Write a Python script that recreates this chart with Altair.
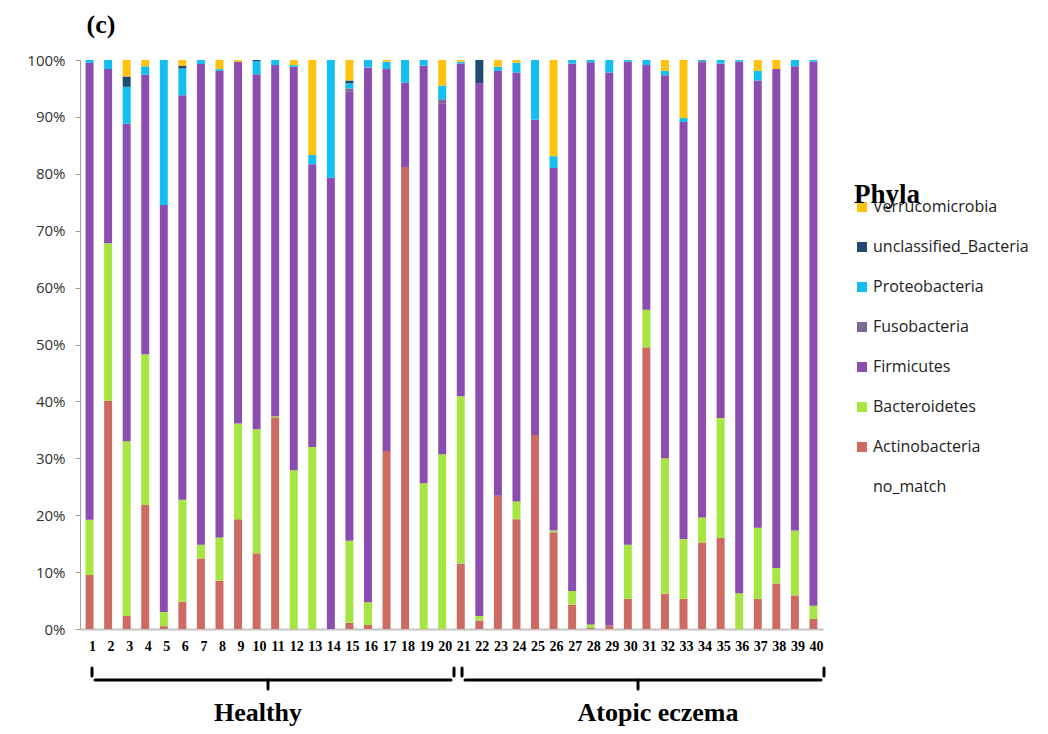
import altair as alt
import pandas as pd

samples = ["1", "2", "3", "4", "5", "6", "7", "8", "9", "10",
           "11", "12", "13", "14", "15", "16", "17", "18", "19", "20",
           "21", "22", "23", "24", "25", "26", "27", "28", "29", "30",
           "31", "32", "33", "34", "35", "36", "37", "38", "39", "40"]

# percentage of each phylum per sample
actinobacteria = [9.5, 40.1, 2.3, 21.8, 0.5, 4.8, 12.4, 8.5, 19.3, 13.3,
                  37.2, 0.0, 0.0, 0.0, 1.1, 0.7, 31.3, 81.2, 0.0, 0.0,
                  11.5, 1.5, 23.4, 19.3, 34.1, 17.0, 4.3, 0.2, 0.6, 5.3,
                  49.5, 6.2, 5.3, 15.2, 16.0, 0.0, 5.3, 8.0, 5.9, 1.8]
bacteroidetes = [9.7, 27.7, 30.7, 26.5, 2.5, 17.9, 2.4, 7.6, 16.8, 21.8,
                 0.2, 27.9, 32.0, 0.0, 14.4, 4.0, 0.0, 0.0, 25.6, 30.7,
                 29.4, 0.8, 0.0, 3.1, 0.0, 0.3, 2.4, 0.6, 0.0, 9.5,
                 6.6, 23.8, 10.5, 4.4, 21.1, 6.3, 12.5, 2.7, 11.4, 2.3]
firmicutes = [80.3, 30.6, 55.8, 49.1, 71.5, 71.1, 84.5, 82.0, 63.6, 62.4,
              61.7, 70.9, 49.7, 79.3, 79.0, 94.0, 67.1, 14.8, 73.4, 61.7,
              58.5, 93.6, 74.7, 75.4, 55.4, 63.7, 92.7, 98.8, 97.2, 84.9,
              43.0, 67.3, 73.3, 80.0, 62.3, 93.4, 78.6, 87.7, 81.6, 95.6]
fusobacteria = [0.0, 0.0, 0.0, 0.0, 0.0, 0.0, 0.0, 0.0, 0.0, 0.0,
                0.0, 0.0, 0.0, 0.0, 0.5, 0.0, 0.0, 0.0, 0.0, 0.7,
                0.0, 0.0, 0.0, 0.0, 0.0, 0.0, 0.0, 0.0, 0.0, 0.0,
                0.0, 0.0, 0.0, 0.2, 0.0, 0.0, 0.0, 0.0, 0.0, 0.0]
proteobacteria = [0.5, 1.6, 6.5, 1.5, 25.5, 4.7, 0.7, 0.3, 0.0, 2.3,
                  0.9, 0.3, 1.6, 20.7, 0.9, 1.3, 1.3, 4.0, 1.0, 2.4,
                  0.3, 0.0, 0.7, 1.7, 10.5, 2.1, 0.6, 0.4, 2.2, 0.3,
                  0.9, 0.8, 0.7, 0.2, 0.6, 0.3, 1.7, 0.0, 1.1, 0.3]
unclassified = [0.0, 0.0, 1.8, 0.0, 0.0, 0.5, 0.0, 0.0, 0.0, 0.2,
                0.0, 0.0, 0.0, 0.0, 0.5, 0.0, 0.0, 0.0, 0.0, 0.0,
                0.0, 4.1, 0.0, 0.0, 0.0, 0.0, 0.0, 0.0, 0.0, 0.0,
                0.0, 0.0, 0.0, 0.0, 0.0, 0.0, 0.0, 0.0, 0.0, 0.0]
verrucomicrobia = [0.0, 0.0, 2.9, 1.1, 0.0, 1.0, 0.0, 1.6, 0.3, 0.0,
                   0.0, 0.9, 16.7, 0.0, 3.6, 0.0, 0.3, 0.0, 0.0, 4.5,
                   0.3, 0.0, 1.2, 0.5, 0.0, 16.9, 0.0, 0.0, 0.0, 0.0,
                   0.0, 1.9, 10.2, 0.0, 0.0, 0.0, 1.9, 1.6, 0.0, 0.0]

legend_order = ["Verrucomicrobia", "unclassified_Bacteria", "Proteobacteria",
                "Fusobacteria", "Firmicutes", "Bacteroidetes", "Actinobacteria", "no_match"]
palette = ["#FFC20E", "#1F4A72", "#13BEF0", "#7D6895", "#8B4DB0", "#A6E542", "#CD6A62", "#FFFFFF"]

series = {
    "Actinobacteria": actinobacteria,
    "Bacteroidetes": bacteroidetes,
    "Firmicutes": firmicutes,
    "Fusobacteria": fusobacteria,
    "Proteobacteria": proteobacteria,
    "unclassified_Bacteria": unclassified,
    "Verrucomicrobia": verrucomicrobia,
}
stack_rank = {name: i for i, name in enumerate(series)}

rows = []
for name, vals in series.items():
    for s, v in zip(samples, vals):
        rows.append({"sample": s, "phylum": name, "value": v, "rank": stack_rank[name]})
df = pd.DataFrame(rows)

bars = alt.Chart(df).mark_bar(strokeWidth=0).encode(
    x=alt.X("sample:N", sort=samples,
            scale=alt.Scale(paddingInner=0.57, paddingOuter=0.3),
            axis=alt.Axis(title=None, labelAngle=0, ticks=False,
                          labelFont="Liberation Serif", labelFontWeight="bold",
                          labelFontSize=14, labelColor="black", labelPadding=10,
                          labelOffset=3, domainColor="#C4C4C4", domainWidth=2)),
    y=alt.Y("value:Q", stack="zero",
            scale=alt.Scale(domain=[0, 100], nice=False),
            axis=alt.Axis(title=None, values=[0, 10, 20, 30, 40, 50, 60, 70, 80, 90, 100],
                          labelExpr="datum.value + '%'", grid=False,
                          labelFont="Open Sans", labelFontSize=15, labelColor="#333333",
                          tickSize=5, tickColor="#A0A0A0", domainColor="#A0A0A0",
                          labelPadding=10)),
    color=alt.Color("phylum:N",
                    scale=alt.Scale(domain=legend_order, range=palette),
                    legend=alt.Legend(orient="none", legendX=774, legendY=122,
                                      title="Phyla", titleFont="Liberation Serif",
                                      titleFontWeight="bold", titleFontSize=27,
                                      titleColor="black", titlePadding=-10,
                                      symbolType="square", symbolSize=100,
                                      symbolStrokeWidth=0, labelFont="Open Sans",
                                      labelFontSize=16, labelColor="#222222",
                                      rowPadding=24, padding=0, labelOffset=3)),
    order=alt.Order("rank:Q", sort="ascending"),
)

one = pd.DataFrame({"d": [0]})


def seg(x1, y1, x2, y2):
    return alt.Chart(one).mark_rule(color="black", strokeWidth=3, strokeCap="round").encode(
        x=alt.value(x1), x2=alt.value(x2), y=alt.value(y1), y2=alt.value(y2))


def label(txt, x, y, size):
    return alt.Chart(one).mark_text(text=txt, font="Liberation Serif", fontWeight="bold",
                                    fontSize=size, color="black", baseline="middle",
                                    align="center").encode(x=alt.value(x), y=alt.value(y))


decor = [
    # Healthy bracket
    seg(12, 608, 12, 616), seg(15, 620, 371, 620), seg(374, 608, 374, 616),
    seg(188, 620, 188, 629),
    # Atopic eczema bracket
    seg(382, 608, 382, 616), seg(385, 620, 741, 620), seg(744, 608, 744, 616),
    seg(558, 620, 558, 629),
    label("Healthy", 178, 653, 26),
    label("Atopic eczema", 578, 653, 26),
    label("(c)", 21, -35, 26),
]

chart = alt.layer(bars, *decor).properties(
    width=743, height=569,
    autosize=alt.AutoSizeParams(type="none"),
    padding={"left": 72, "top": 52, "right": 217, "bottom": 97},
).configure_view(stroke=None)

chart.save("out.html", embed_options={"renderer": "svg", "actions": False})
